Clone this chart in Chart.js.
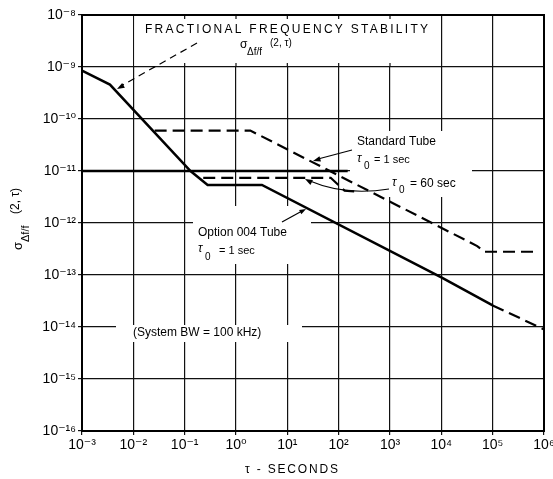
<!DOCTYPE html>
<html>
<head>
<meta charset="utf-8">
<script src="https://cdn.jsdelivr.net/npm/chart.js@4.4.1/dist/chart.umd.min.js"></script>
<style>
  html, body { margin: 0; padding: 0; background: #fff; }
  canvas { display: block; }
</style>
</head>
<body>
<canvas id="stability" width="553" height="479"></canvas>
<script>
// decades on each axis and their labels
const xDecades = [1e-3, 1e-2, 1e-1, 1e0, 1e1, 1e2, 1e3, 1e4, 1e5, 1e6];
const xTickLabels = ['10⁻³', '10⁻²', '10⁻¹', '10⁰', '10¹', '10²', '10³', '10⁴', '10⁵', '10⁶'];
const yDecades = [1e-16, 1e-15, 1e-14, 1e-13, 1e-12, 1e-11, 1e-10, 1e-9, 1e-8];
const yTickLabels = ['10⁻¹⁶', '10⁻¹⁵', '10⁻¹⁴', '10⁻¹³', '10⁻¹²', '10⁻¹¹', '10⁻¹⁰', '10⁻⁹', '10⁻⁸'];

// Option 004 tube, tau0 = 1 sec (solid, then dashed beyond 1e5)
const optionTau = [0.001, 0.0035, 0.13, 0.28, 3.2, 1e4, 1e5];
const optionSigma = [8.5e-10, 4.6e-10, 1e-11, 5.4e-12, 5.4e-12, 9e-14, 2.6e-14];
const optionExtTau = [1e5, 1e6];
const optionExtSigma = [2.6e-14, 9e-15];

// standard tube, tau0 = 1 sec
const stdTau = [0.026, 1.9, 5e4, 7e4, 7.8e5];
const stdSigma = [6e-11, 6e-11, 3.6e-13, 2.8e-13, 2.8e-13];

// standard tube, tau0 = 60 sec
const std60Tau = [0.23, 70, 130, 230];
const std60Sigma = [7.4e-12, 7.4e-12, 4.2e-12, 4.0e-12];

// heavy 1e-11 level
const levelTau = [0.001, 150];
const levelSigma = [1e-11, 1e-11];

function pts(xs, ys) {
  return xs.map((x, i) => ({ x: x, y: ys[i] }));
}

const FONT = "'Liberation Sans', 'DejaVu Sans', sans-serif";

function arrowHead(ctx, x0, y0, x1, y1, size) {
  const a = Math.atan2(y1 - y0, x1 - x0);
  ctx.beginPath();
  ctx.moveTo(x1, y1);
  ctx.lineTo(x1 - size * Math.cos(a - 0.35), y1 - size * Math.sin(a - 0.35));
  ctx.lineTo(x1 - size * Math.cos(a + 0.35), y1 - size * Math.sin(a + 0.35));
  ctx.closePath();
  ctx.fill();
}

function spacedText(ctx, text, x, y, width) {
  ctx.letterSpacing = '0px';
  const w = ctx.measureText(text).width;
  const ls = (width - w) / (text.length - 1);
  ctx.letterSpacing = ls + 'px';
  ctx.fillText(text, x, y);
  ctx.letterSpacing = '0px';
}

const annotations = {
  id: 'annotations',
  beforeDatasetsDraw(chart) {
    const ctx = chart.ctx;
    const xs = chart.scales.x, ys = chart.scales.y;
    const l = xs.getPixelForValue(1e-2), r = xs.getPixelForValue(1e4);
    const t = ys.getPixelForValue(1e-8), b = ys.getPixelForValue(1e-9);
    ctx.save();
    ctx.fillStyle = '#fff';
    ctx.fillRect(l + 1, t + 1, r - l - 2, b - t - 2);
    // clear grid behind the text labels
    ctx.fillRect(116, 325, 186, 17);
    ctx.fillRect(350, 131, 122, 66);
    ctx.fillRect(193, 206, 118, 58);
    ctx.strokeStyle = '#111';
    ctx.lineWidth = 1.2;
    [1e-1, 1e0, 1e1, 1e2, 1e3].forEach(v => {
      const px = xs.getPixelForValue(v);
      ctx.beginPath();
      ctx.moveTo(px, t); ctx.lineTo(px, t + 4);
      ctx.moveTo(px, b); ctx.lineTo(px, b - 4);
      ctx.stroke();
    });
    ctx.restore();
  },
  afterDraw(chart) {
    const ctx = chart.ctx;
    const a = chart.chartArea;
    ctx.save();
    ctx.strokeStyle = '#000';
    ctx.lineWidth = 2;
    ctx.strokeRect(a.left, a.top, a.right - a.left, a.bottom - a.top);

    ctx.fillStyle = '#000';
    ctx.textBaseline = 'middle';
    ctx.textAlign = 'left';

    // title
    ctx.font = '12px ' + FONT;
    spacedText(ctx, 'FRACTIONAL FREQUENCY STABILITY', 145, 30, 283);
    ctx.font = '12px ' + FONT;
    ctx.fillText('σ', 240, 45);
    ctx.font = '10px ' + FONT;
    ctx.fillText('Δf/f', 247, 52);
    ctx.fillText('(2, τ)', 270, 43);

    // title leader (dashed, arrow)
    ctx.lineWidth = 1.2;
    ctx.setLineDash([7, 5]);
    ctx.beginPath();
    ctx.moveTo(197, 43); ctx.lineTo(121, 86);
    ctx.stroke();
    ctx.setLineDash([]);
    arrowHead(ctx, 197, 43, 117, 89, 8);

    // standard tube labels
    ctx.font = '12px ' + FONT;
    ctx.fillText('Standard Tube', 357, 142);
    ctx.font = 'italic 12px ' + FONT;
    ctx.fillText('τ', 357, 159);
    ctx.font = '10px ' + FONT;
    ctx.fillText('0', 364, 166);
    ctx.font = '11px ' + FONT;
    ctx.fillText('= 1 sec', 374, 160);
    ctx.font = 'italic 12px ' + FONT;
    ctx.fillText('τ', 392, 183);
    ctx.font = '10px ' + FONT;
    ctx.fillText('0', 399, 190);
    ctx.font = '12px ' + FONT;
    ctx.fillText('= 60 sec', 410, 184);

    ctx.beginPath();
    ctx.moveTo(352, 150); ctx.lineTo(318, 159);
    ctx.stroke();
    arrowHead(ctx, 352, 150, 313, 161, 8);
    ctx.beginPath();
    ctx.moveTo(389, 189);
    ctx.quadraticCurveTo(345, 196, 310, 181);
    ctx.stroke();
    arrowHead(ctx, 330, 192, 305, 179, 8);

    // option 004 labels
    ctx.font = '12px ' + FONT;
    ctx.fillText('Option 004 Tube', 198, 233);
    ctx.font = 'italic 12px ' + FONT;
    ctx.fillText('τ', 198, 249);
    ctx.font = '10px ' + FONT;
    ctx.fillText('0', 205, 257);
    ctx.font = '11px ' + FONT;
    ctx.fillText('= 1 sec', 219, 251);
    ctx.beginPath();
    ctx.moveTo(282, 222); ctx.lineTo(302, 211);
    ctx.stroke();
    arrowHead(ctx, 282, 222, 306, 209, 7);

    // system bandwidth note
    ctx.font = '12px ' + FONT;
    ctx.fillText('(System BW = 100 kHz)', 133, 333);

    // axis titles
    ctx.font = '12px ' + FONT;
    spacedText(ctx, 'τ - SECONDS', 245, 470, 93);

    ctx.translate(18, 250);
    ctx.rotate(-Math.PI / 2);
    ctx.font = '13px ' + FONT;
    ctx.fillText('σ', 0, 0);
    ctx.font = '11px ' + FONT;
    ctx.fillText('Δf/f', 8, 8);
    ctx.font = '12px ' + FONT;
    ctx.fillText('(2, τ)', 36, -2);
    ctx.restore();
  }
};

const ctx = document.getElementById('stability').getContext('2d');
Chart.defaults.font.family = FONT;
Chart.defaults.color = '#000';

new Chart(ctx, {
  type: 'line',
  data: {
    datasets: [
      { data: pts(optionTau, optionSigma), borderWidth: 2.5 },
      { data: pts(optionExtTau, optionExtSigma), borderWidth: 2.2, borderDash: [12, 6] },
      { data: pts(stdTau, stdSigma), borderWidth: 2.2, borderDash: [12, 6] },
      { data: pts(std60Tau, std60Sigma), borderWidth: 2.2, borderDash: [12, 6] },
      { data: pts(levelTau, levelSigma), borderWidth: 2.5 }
    ]
  },
  options: {
    responsive: false,
    animation: false,
    devicePixelRatio: 1,
    elements: {
      line: { borderColor: '#000', tension: 0, fill: false },
      point: { radius: 0 }
    },
    layout: {
      padding: { top: 15, right: 9, left: 0, bottom: 0 }
    },
    plugins: {
      legend: { display: false },
      tooltip: { enabled: false }
    },
    scales: {
      x: {
        type: 'logarithmic',
        min: 1e-3,
        max: 1e6,
        afterBuildTicks: s => { s.ticks = xDecades.map(v => ({ value: v })); },
        afterFit: s => { s.height = 48; s.paddingLeft = 0; s.paddingRight = 0; },
        ticks: {
          autoSkip: false,
          maxRotation: 0,
          padding: 2,
          font: { size: 14 },
          color: '#000',
          callback: v => xTickLabels[xDecades.indexOf(v)]
        },
        grid: { color: '#111', lineWidth: 1.2, tickLength: 4 },
        border: { color: '#000', width: 2 }
      },
      y: {
        type: 'logarithmic',
        min: 1e-16,
        max: 1e-8,
        afterBuildTicks: s => { s.ticks = yDecades.map(v => ({ value: v })); },
        afterFit: s => { s.width = 82; s.paddingTop = 0; s.paddingBottom = 0; },
        ticks: {
          autoSkip: false,
          padding: 2,
          font: { size: 14 },
          color: '#000',
          callback: v => yTickLabels[yDecades.indexOf(v)]
        },
        grid: { color: '#111', lineWidth: 1.2, tickLength: 4 },
        border: { color: '#000', width: 2 }
      }
    }
  },
  plugins: [annotations]
});
</script>
</body>
</html>
